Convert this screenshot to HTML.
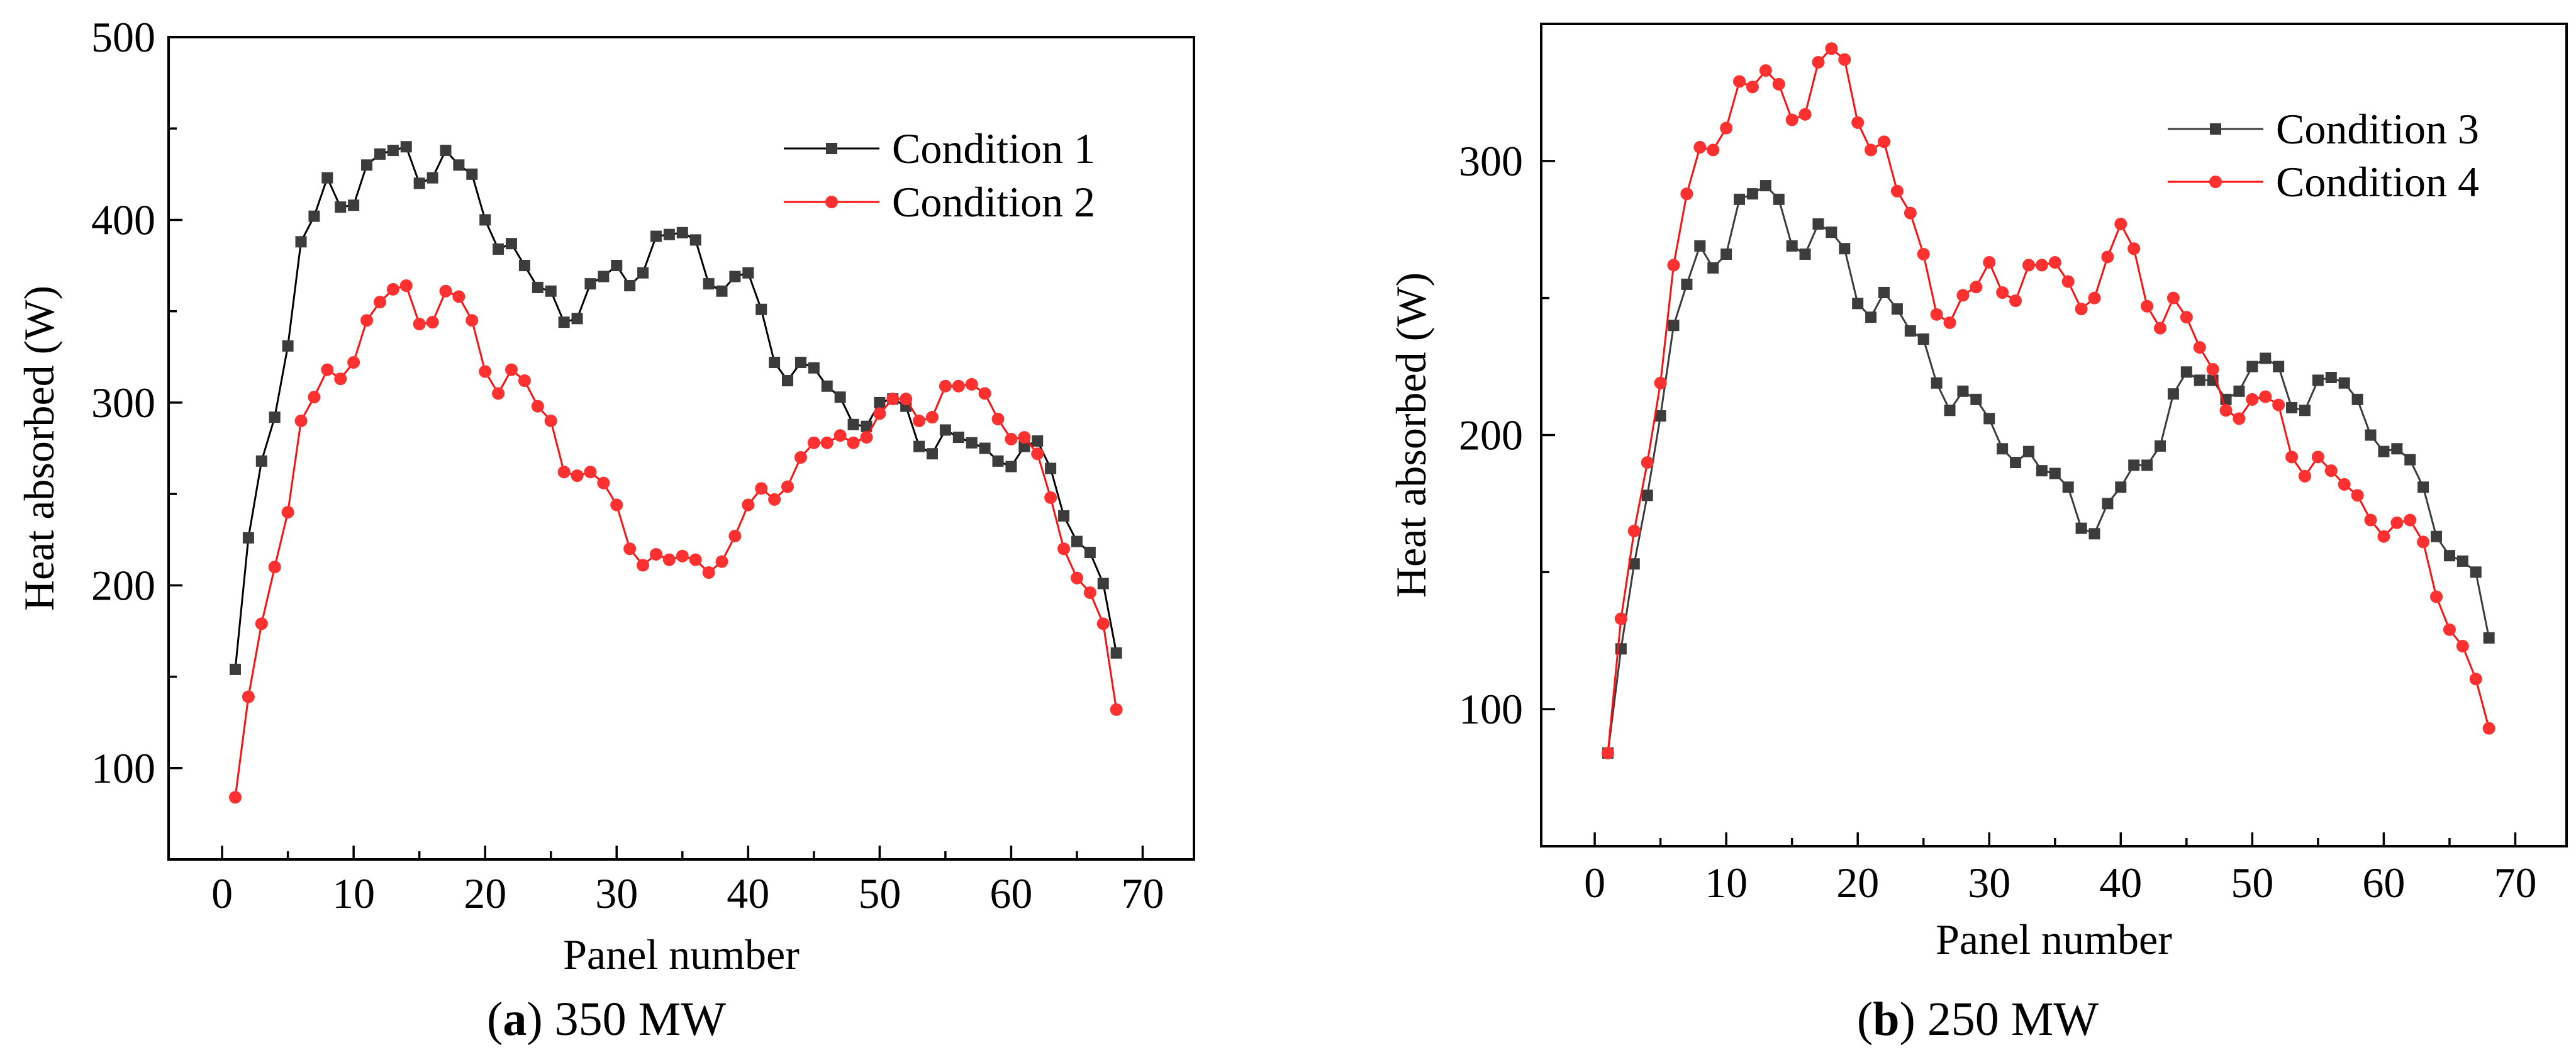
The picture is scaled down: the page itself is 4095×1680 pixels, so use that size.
<!DOCTYPE html>
<html><head><meta charset="utf-8"><style>
html,body{margin:0;padding:0;background:#fff;}
svg, svg text{font-family:"Liberation Serif","Times New Roman",serif;}
svg{display:block;}
</style></head><body>
<svg id="fig" width="4095" height="1680" viewBox="0 0 4095 1680" xmlns="http://www.w3.org/2000/svg" font-family="Liberation Serif, serif">
<rect width="4095" height="1680" fill="#fff"/>
</svg>
<script>
const panels = Array.from({length:68},(_,i)=>i+1);
const cond1 = [154,226,268,292,331,388,402,423,407,408,430,436,438,440,420,423,438,430,425,400,384,387,375,363,361,344,346,365,369,375,364,371,391,392,393,389,365,361,369,371,351,322,312,322,319,309,303,288,287,300,302,298,276,272,285,281,278,275,268,265,276,279,264,238,224,218,201,163];
const cond2 = [84,139,179,210,240,290,303,318,313,322,345,355,362,364,343,344,361,358,345,317,305,318,312,298,290,262,260,262,256,244,220,211,217,214,216,214,207,213,227,244,253,247,254,270,278,278,282,278,281,294,302,302,290,292,309,309,310,305,291,280,281,272,248,220,204,196,179,132];
const cond3 = [84,122,153,178,207,240,255,269,261,266,286,288,291,286,269,266,277,274,268,248,243,252,246,238,235,219,209,216,213,206,195,190,194,187,186,181,166,164,175,181,189,189,196,215,223,220,220,213,216,225,228,225,210,209,220,221,219,213,200,194,195,191,181,163,156,154,150,126];
const cond4 = [84,133,165,190,219,262,288,305,304,312,329,327,333,328,315,317,336,341,337,314,304,307,289,281,266,244,241,251,254,263,252,249,262,262,263,256,246,250,265,277,268,247,239,250,243,232,224,209,206,213,214,211,192,185,192,187,182,178,169,163,168,169,161,141,129,123,111,93];
const xTicks = [0,10,20,30,40,50,60,70];
const yTicksA = [100,200,300,400,500];
const yTicksB = [100,200,300];
const legendA = ["Condition 1","Condition 2"];
const legendB = ["Condition 3","Condition 4"];

const NS="http://www.w3.org/2000/svg";
const svg=document.getElementById('fig');
const FF='Liberation Serif, Times New Roman, serif';
function mk(tag,attrs,parent){const e=document.createElementNS(NS,tag);for(const k in attrs)e.setAttribute(k,attrs[k]);if(tag==='text')e.setAttribute('font-family',FF);(parent||svg).appendChild(e);return e;}

function chart(cfg){
  const g=mk('g',{});
  
  
  const {L,R,T,B,xmin,xmax,ymin,ymax}=cfg;
  const sx=v=>L+(v-xmin)/(xmax-xmin)*(R-L);
  const sy=v=>B-(v-ymin)/(ymax-ymin)*(B-T);
  for(let v=0;v<=70;v+=5){
    const t=mk('line',{x1:sx(v),x2:sx(v),y1:B,y2:B-(v%10===0?22:13),stroke:'#000','stroke-width':3.5},g);
    
    
  }
  for(let v=Math.ceil(ymin/50)*50;v<=ymax;v+=50){
    const t=mk('line',{x1:L,x2:L+(v%100===0?22:13),y1:sy(v),y2:sy(v),stroke:'#000','stroke-width':3.5},g);
    
    
  }
  xTicks.forEach(v=>{
    const t=mk('text',{x:sx(v),y:cfg.xlY,'font-size':68,'text-anchor':'middle'},g);t.textContent=v;
    
    
  });
  cfg.yTicks.forEach(v=>{
    const t=mk('text',{x:cfg.ylX,y:sy(v)+23,'font-size':68,'text-anchor':'end'},g);t.textContent=v;
    
    
  });
  cfg.series.forEach((s,si)=>{
    const pts=panels.map((p,i)=>sx(p)+','+sy(s.data[i])).join(' ');
    const pl=mk('polyline',{points:pts,fill:'none',stroke:s.line,'stroke-width':3},g);
    
    
    panels.forEach((p,i)=>{
      let m;
      if(s.shape==='sq') m=mk('rect',{x:sx(p)-9,y:sy(s.data[i])-9,width:18,height:18,fill:s.mark},g);
      else m=mk('circle',{cx:sx(p),cy:sy(s.data[i]),r:10,fill:s.mark},g);
      
      
    });
    const ly=cfg.legY+si*cfg.legDy;
    const ll=mk('line',{x1:cfg.legX,x2:cfg.legX+152,y1:ly,y2:ly,stroke:s.line,'stroke-width':3},g);
    
    
    let lm;
    if(s.shape==='sq') lm=mk('rect',{x:cfg.legX+76-9,y:ly-9,width:18,height:18,fill:s.mark},g);
    else lm=mk('circle',{cx:cfg.legX+76,cy:ly,r:10,fill:s.mark},g);
    
    
    const lt=mk('text',{x:cfg.legX+172,y:ly+23,'font-size':68},g);lt.textContent=cfg.legend[si];
    
    
  });
  const box=mk('rect',{x:L,y:T,width:R-L,height:B-T,fill:'none',stroke:'#000','stroke-width':4},g);
  
  
  const yt=mk('text',{x:0,y:0,'font-size':68,'text-anchor':'middle',transform:`translate(${cfg.ytX},${(T+B)/2}) rotate(-90)`},g);
  yt.textContent='Heat absorbed (W)';
  
  
  const xt=mk('text',{x:(L+R)/2,y:cfg.xtY,'font-size':68,'text-anchor':'middle'},g);
  xt.textContent='Panel number';
  
  
  const cap=mk('text',{x:cfg.capX,y:1645,'font-size':76,'text-anchor':'middle'},g);
  cap.innerHTML='(<tspan font-weight="bold">'+cfg.capL+'</tspan>) '+cfg.capT;
  
  
}
chart({name:'chart-350mw',L:268,R:1898,T:59,B:1366,xmin:-4.07,xmax:73.9,ymin:50,ymax:500,
  yTicks:yTicksA,xlY:1443,ylX:247,ytX:85,xtY:1540,capX:964,capL:'a',capT:'350 MW',
  legX:1246,legY:236,legDy:85,legend:legendA,
  series:[{data:cond1,line:'#000',mark:'#3c3c3c',shape:'sq'},{data:cond2,line:'#ff1010',mark:'#ff3030',shape:'ci'}]});
chart({name:'chart-250mw',L:2450,R:4080,T:38,B:1345,xmin:-4.07,xmax:73.9,ymin:50,ymax:350,
  yTicks:yTicksB,xlY:1426,ylX:2421,ytX:2266,xtY:1516,capX:3144,capL:'b',capT:'250 MW',
  legX:3446,legY:205,legDy:84,legend:legendB,
  series:[{data:cond3,line:'#3c3c3c',mark:'#3c3c3c',shape:'sq'},{data:cond4,line:'#ff1010',mark:'#ff3030',shape:'ci'}]});
</script>
</body></html>
